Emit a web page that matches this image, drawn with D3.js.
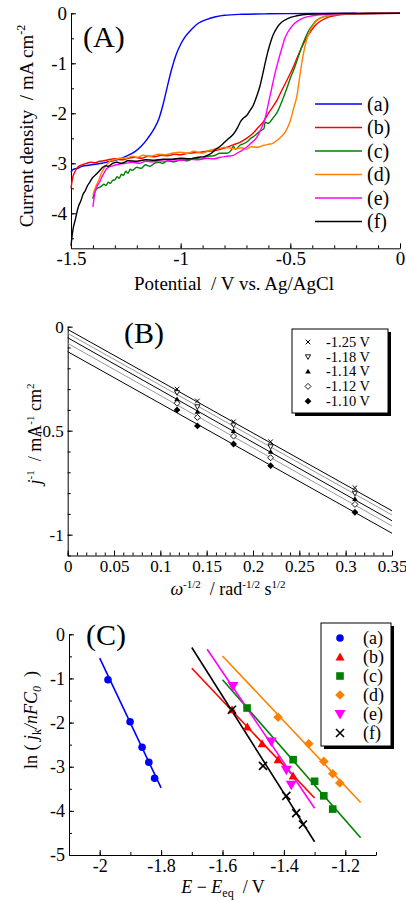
<!DOCTYPE html>
<html><head><meta charset="utf-8">
<script src="https://cdn.jsdelivr.net/npm/d3@7"></script>
<style>
body{margin:0;background:#fff;}
svg{display:block;font-family:"Liberation Serif","Times New Roman",serif;}
</style></head><body>
<script>
// ---- panel A : LSV curves, [potential V, current density mA cm-2]
var lsvNames = ["(a)","(b)","(c)","(d)","(e)","(f)"];
var lsvColors = ["#0000ff","#ff0000","#008000","#ff8000","#ff00ff","#000000"];
var curveA = [[-1.5,-3.18],[-1.49,-3.12],[-1.47,-3.1],[-1.45,-3.06],[-1.42,-3.04],[-1.39,-3.02],[-1.36,-3.0],[-1.33,-2.97],[-1.3,-2.94],[-1.27,-2.9],[-1.24,-2.84],[-1.21,-2.77],[-1.18,-2.66],[-1.15,-2.5],[-1.12,-2.3],[-1.1,-2.12],[-1.08,-1.82],[-1.06,-1.45],[-1.04,-1.1],[-1.02,-0.82],[-1.0,-0.62],[-0.98,-0.47],[-0.95,-0.32],[-0.92,-0.2],[-0.88,-0.12],[-0.84,-0.07],[-0.8,-0.04],[-0.72,-0.02],[-0.6,-0.01],[-0.4,-0.005],[-0.2,0]];
var curveB = [[-1.5,-3.5],[-1.495,-3.35],[-1.49,-3.25],[-1.48,-3.15],[-1.47,-3.08],[-1.45,-3.03],[-1.43,-3.0],[-1.41,-2.98],[-1.39,-2.99],[-1.37,-2.96],[-1.35,-2.95],[-1.33,-2.93],[-1.3,-2.91],[-1.27,-2.93],[-1.24,-2.9],[-1.21,-2.88],[-1.18,-2.9],[-1.15,-2.86],[-1.12,-2.87],[-1.09,-2.84],[-1.06,-2.85],[-1.03,-2.82],[-1.0,-2.83],[-0.97,-2.8],[-0.94,-2.79],[-0.91,-2.78],[-0.88,-2.76],[-0.85,-2.75],[-0.82,-2.72],[-0.79,-2.68],[-0.76,-2.63],[-0.73,-2.58],[-0.7,-2.5],[-0.67,-2.4],[-0.65,-2.3],[-0.62,-2.15],[-0.6,-2.0],[-0.58,-1.87],[-0.56,-1.73],[-0.54,-1.55],[-0.52,-1.38],[-0.5,-1.2],[-0.486,-1.07],[-0.47,-0.9],[-0.45,-0.7],[-0.43,-0.52],[-0.41,-0.38],[-0.39,-0.26],[-0.37,-0.18],[-0.34,-0.1],[-0.3,-0.05],[-0.25,-0.02],[-0.15,-0.005],[0,0]];
var curveC = [[-1.4,-3.71],[-1.395,-3.6],[-1.39,-3.55],[-1.38,-3.5],[-1.37,-3.48],[-1.36,-3.45],[-1.35,-3.42],[-1.34,-3.44],[-1.33,-3.38],[-1.32,-3.4],[-1.31,-3.34],[-1.3,-3.33],[-1.29,-3.27],[-1.28,-3.3],[-1.27,-3.22],[-1.26,-3.24],[-1.25,-3.16],[-1.24,-3.2],[-1.23,-3.12],[-1.22,-3.14],[-1.2,-3.08],[-1.18,-3.1],[-1.16,-3.03],[-1.14,-3.06],[-1.12,-3.0],[-1.1,-2.98],[-1.08,-3.0],[-1.06,-2.95],[-1.03,-2.97],[-1.0,-2.93],[-0.97,-2.95],[-0.94,-2.9],[-0.91,-2.92],[-0.88,-2.86],[-0.85,-2.85],[-0.82,-2.8],[-0.79,-2.8],[-0.77,-2.74],[-0.76,-2.66],[-0.75,-2.72],[-0.73,-2.64],[-0.7,-2.58],[-0.68,-2.5],[-0.66,-2.44],[-0.64,-2.36],[-0.62,-2.3],[-0.615,-2.18],[-0.6,-2.2],[-0.58,-2.1],[-0.56,-1.98],[-0.54,-1.78],[-0.52,-1.55],[-0.5,-1.3],[-0.48,-1.08],[-0.46,-0.82],[-0.44,-0.58],[-0.42,-0.38],[-0.4,-0.24],[-0.38,-0.14],[-0.35,-0.07],[-0.3,-0.03],[-0.22,-0.01],[-0.1,0],[0,0]];
var curveD = [[-1.4,-3.63],[-1.39,-3.5],[-1.38,-3.4],[-1.37,-3.3],[-1.36,-3.18],[-1.35,-3.1],[-1.34,-3.04],[-1.32,-2.95],[-1.3,-2.93],[-1.28,-2.9],[-1.25,-2.9],[-1.22,-2.86],[-1.2,-2.88],[-1.17,-2.84],[-1.14,-2.86],[-1.1,-2.82],[-1.07,-2.83],[-1.04,-2.8],[-1.0,-2.78],[-0.97,-2.8],[-0.94,-2.76],[-0.9,-2.8],[-0.87,-2.74],[-0.85,-2.72],[-0.82,-2.7],[-0.8,-2.68],[-0.77,-2.7],[-0.75,-2.71],[-0.72,-2.69],[-0.7,-2.72],[-0.68,-2.67],[-0.65,-2.68],[-0.62,-2.64],[-0.6,-2.62],[-0.58,-2.6],[-0.56,-2.54],[-0.54,-2.46],[-0.52,-2.35],[-0.5,-2.15],[-0.485,-1.9],[-0.47,-1.65],[-0.455,-1.2],[-0.44,-0.8],[-0.425,-0.52],[-0.405,-0.3],[-0.38,-0.15],[-0.35,-0.07],[-0.3,-0.03],[-0.2,-0.01],[0,0]];
var curveE = [[-1.4,-3.87],[-1.395,-3.7],[-1.39,-3.58],[-1.38,-3.45],[-1.37,-3.38],[-1.36,-3.28],[-1.35,-3.2],[-1.34,-3.12],[-1.33,-3.08],[-1.31,-3.05],[-1.28,-3.02],[-1.25,-3.0],[-1.22,-2.98],[-1.19,-3.0],[-1.16,-2.96],[-1.13,-2.97],[-1.1,-2.95],[-1.07,-2.96],[-1.04,-2.93],[-1.0,-2.94],[-0.96,-2.92],[-0.92,-2.93],[-0.88,-2.9],[-0.85,-2.91],[-0.82,-2.88],[-0.79,-2.86],[-0.76,-2.84],[-0.74,-2.79],[-0.72,-2.74],[-0.7,-2.68],[-0.68,-2.6],[-0.66,-2.52],[-0.645,-2.42],[-0.63,-2.28],[-0.615,-2.1],[-0.6,-1.8],[-0.585,-1.5],[-0.57,-1.2],[-0.555,-0.95],[-0.54,-0.72],[-0.525,-0.5],[-0.5,-0.3],[-0.48,-0.2],[-0.45,-0.11],[-0.4,-0.05],[-0.33,-0.02],[-0.25,-0.005],[0,0]];
var curveF = [[-1.5,-4.65],[-1.495,-4.45],[-1.49,-4.3],[-1.48,-4.12],[-1.474,-4.0],[-1.465,-3.85],[-1.455,-3.75],[-1.445,-3.62],[-1.435,-3.55],[-1.425,-3.45],[-1.415,-3.38],[-1.4,-3.28],[-1.39,-3.24],[-1.37,-3.15],[-1.355,-3.08],[-1.34,-3.05],[-1.33,-3.06],[-1.31,-3.0],[-1.29,-2.98],[-1.27,-3.0],[-1.24,-2.95],[-1.2,-2.96],[-1.16,-2.93],[-1.12,-2.94],[-1.08,-2.92],[-1.04,-2.92],[-1.0,-2.9],[-0.96,-2.91],[-0.92,-2.88],[-0.89,-2.86],[-0.86,-2.8],[-0.84,-2.72],[-0.82,-2.66],[-0.8,-2.58],[-0.78,-2.5],[-0.76,-2.42],[-0.74,-2.28],[-0.725,-2.15],[-0.715,-2.1],[-0.7,-2.05],[-0.685,-1.95],[-0.67,-1.85],[-0.655,-1.68],[-0.64,-1.48],[-0.625,-1.2],[-0.61,-0.9],[-0.595,-0.65],[-0.58,-0.45],[-0.56,-0.28],[-0.54,-0.18],[-0.51,-0.1],[-0.47,-0.05],[-0.42,-0.02],[-0.3,-0.005],[0,0]];
var lsvSeries = [curveA, curveB, curveC, curveD, curveE, curveF];

// ---- panel B : Koutecky-Levich, x = omega^-1/2, y = j^-1
var klX = [0.118, 0.14, 0.179, 0.219, 0.31];
var klLabels = ["-1.25 V","-1.18 V","-1.14 V","-1.12 V","-1.10 V"];
var kl125 = [-0.30,-0.357,-0.457,-0.553,-0.774];
var kl118 = [-0.317,-0.385,-0.473,-0.577,-0.801];
var kl114 = [-0.349,-0.409,-0.501,-0.601,-0.828];
var kl112 = [-0.368,-0.436,-0.526,-0.63,-0.854];
var kl110 = [-0.40,-0.477,-0.564,-0.668,-0.892];
var klSeries = [kl125, kl118, kl114, kl112, kl110];
var klFitX = [0, 0.35];
var klFitStart = [-0.013,-0.032,-0.053,-0.08,-0.12];
var klFitEnd = [-0.885,-0.905,-0.933,-0.958,-0.993];
var klLineColors = ["#000","#999","#000","#999","#000"];

// ---- panel C : Tafel plots, x = E - Eeq, y = ln(jk/nFC0)
var tafelNames = ["(a)","(b)","(c)","(d)","(e)","(f)"];
var tafelColors = ["#0000ff","#ff0000","#008000","#ff8000","#ff00ff","#000000"];
var tafelE = [
  [-1.973,-1.901,-1.862,-1.840,-1.821],
  [-1.569,-1.519,-1.471,-1.419,-1.370],
  [-1.520,-1.370,-1.300,-1.270,-1.241],
  [-1.419,-1.319,-1.270,-1.241,-1.218],
  [-1.566,-1.441,-1.392,-1.376],
  [-1.569,-1.468,-1.392,-1.360,-1.338]];
var tafelLn = [
  [-1.03,-1.98,-2.56,-2.90,-3.26],
  [-1.71,-2.10,-2.48,-2.84,-3.21],
  [-1.67,-2.84,-3.33,-3.66,-3.96],
  [-1.88,-2.48,-2.88,-3.16,-3.37],
  [-1.17,-2.43,-3.07,-3.41],
  [-1.71,-2.98,-3.66,-4.05,-4.31]];
var tafelFitE = [[-2.0,-1.8],[-1.70,-1.30],[-1.60,-1.15],[-1.60,-1.15],[-1.65,-1.30],[-1.70,-1.30]];
var tafelFitLn = [[-0.54,-3.48],[-0.77,-3.71],[-1.03,-4.61],[-0.49,-3.81],[-0.34,-3.94],[-0.30,-4.70]];

var W = 406, H = 901;
var FONT = "'Liberation Serif','Times New Roman',serif";
var svg = d3.select("body").append("svg").attr("width", W).attr("height", H);

function rangeVals(a, b, step) {
  var out = [];
  var n = Math.round((b - a) / step);
  for (var i = 0; i <= n; i++) out.push(+(a + i * step).toFixed(4));
  return out;
}
function fmt(d) { return String(+d.toFixed(2)); }

function axes(x, y, o) {
  var g = svg.append("g");
  var yb = y.range()[1], xl = x.range()[0];
  g.append("g").attr("transform", "translate(0," + yb + ")")
    .call(d3.axisBottom(x).tickValues(o.xMinor).tickSize(-3).tickFormat(""))
    .call(function(s) { s.select(".domain").remove(); });
  g.append("g").attr("transform", "translate(" + xl + ",0)")
    .call(d3.axisLeft(y).tickValues(o.yMinor).tickSize(-3).tickFormat(""))
    .call(function(s) { s.select(".domain").remove(); });
  g.append("g").attr("transform", "translate(0," + yb + ")")
    .call(d3.axisBottom(x).tickValues(o.xMajor).tickSizeInner(-5).tickSizeOuter(0).tickPadding(o.xPad).tickFormat(fmt));
  g.append("g").attr("transform", "translate(" + xl + ",0)")
    .call(d3.axisLeft(y).tickValues(o.yMajor).tickSizeInner(-5).tickSizeOuter(0).tickPadding(o.yPad).tickFormat(fmt));
  g.selectAll("g").attr("font-family", FONT).attr("font-size", o.fs);
  g.selectAll("text").attr("fill", "#000");
  g.selectAll("line, path").attr("stroke", "#000");
  return g;
}

// ================= Panel A
var xA = d3.scaleLinear().domain([-1.5, 0]).range([71, 400]);
var yA = d3.scaleLinear().domain([0, -4.7]).range([13.3, 248.3]);
axes(xA, yA, {xMajor: rangeVals(-1.5, 0, 0.5), xMinor: rangeVals(-1.5, 0, 0.1),
  yMajor: rangeVals(-4, 0, 1), yMinor: rangeVals(-4.5, 0, 0.5), xPad: 3, yPad: 4, fs: 19});

var lineA = d3.line().x(function(d) { return xA(d[0]); }).y(function(d) { return yA(d[1]); }).curve(d3.curveMonotoneX);
svg.append("g").selectAll("path").data(lsvSeries).join("path")
  .attr("d", lineA).attr("fill", "none").attr("stroke-width", 1.4)
  .attr("stroke", function(d, i) { return lsvColors[i]; });

var legA = svg.append("g").selectAll("g").data(lsvNames).join("g")
  .attr("transform", function(d, i) { return "translate(315," + (104 + i * 23.5) + ")"; });
legA.append("line").attr("x1", 0).attr("x2", 47).attr("stroke-width", 1.4)
  .attr("stroke", function(d, i) { return lsvColors[i]; });
legA.append("text").attr("x", 52).attr("dy", "0.33em").attr("font-size", 20).text(function(d) { return d; });

svg.append("text").attr("x", 83).attr("y", 47).attr("font-size", 30).text("(A)");
svg.append("text").attr("x", 234).attr("y", 290).attr("text-anchor", "middle").attr("font-size", 19)
  .text("Potential\u00a0\u00a0/ V vs. Ag/AgCl");
var tA = svg.append("text").attr("transform", "translate(33,126) rotate(-90)").attr("text-anchor", "middle").attr("font-size", 19);
tA.append("tspan").text("Current density\u00a0\u00a0/ mA cm");
tA.append("tspan").attr("dy", -8).attr("font-size", 12).text("-2");

// ================= Panel B
var xB = d3.scaleLinear().domain([0, 0.35]).range([67.7, 392]);
var yB = d3.scaleLinear().domain([0, -1.1]).range([326.7, 555.5]);
axes(xB, yB, {xMajor: rangeVals(0, 0.35, 0.05), xMinor: rangeVals(0, 0.35, 0.01),
  yMajor: [-1, -0.5, 0], yMinor: rangeVals(-1.1, 0, 0.1), xPad: 4, yPad: 4, fs: 17});

svg.append("g").selectAll("line").data(klFitStart).join("line")
  .attr("x1", xB(klFitX[0])).attr("x2", xB(klFitX[1]))
  .attr("y1", function(d) { return yB(d); })
  .attr("y2", function(d, i) { return yB(klFitEnd[i]); })
  .attr("stroke", function(d, i) { return klLineColors[i]; }).attr("stroke-width", 1);

function klMarker(sel, k) {
  if (k === 0) {
    sel.append("path").attr("d", "M-2.3,-2.3L2.3,2.3M-2.3,2.3L2.3,-2.3").attr("stroke", "#000").attr("stroke-width", 1);
  } else if (k === 1) {
    sel.append("path").attr("d", "M-2.6,-2L2.6,-2L0,2.6Z").attr("fill", "#fff").attr("stroke", "#000").attr("stroke-width", 0.9);
  } else if (k === 2) {
    sel.append("path").attr("d", "M-2.8,2L2.8,2L0,-2.8Z").attr("fill", "#000");
  } else if (k === 3) {
    sel.append("path").attr("d", "M0,-3L3,0L0,3L-3,0Z").attr("fill", "#fff").attr("stroke", "#000").attr("stroke-width", 0.9);
  } else {
    sel.append("path").attr("d", "M0,-3.4L3.4,0L0,3.4L-3.4,0Z").attr("fill", "#000");
  }
}
klSeries.forEach(function(vals, k) {
  var g = svg.append("g");
  vals.forEach(function(v, i) {
    klMarker(g.append("g").attr("transform", "translate(" + xB(klX[i]) + "," + yB(v) + ")"), k);
  });
});

// legend B
var lbx = 292, lby = 329, lbw = 96, lbh = 84;
svg.append("rect").attr("x", lbx + 3).attr("y", lby + 3).attr("width", lbw).attr("height", lbh).attr("fill", "#000");
svg.append("rect").attr("x", lbx).attr("y", lby).attr("width", lbw).attr("height", lbh).attr("fill", "#fff").attr("stroke", "#000");
klLabels.forEach(function(t, k) {
  var yy = lby + 13 + k * 14.8;
  klMarker(svg.append("g").attr("transform", "translate(" + (lbx + 16) + "," + yy + ")"), k);
  svg.append("text").attr("x", lbx + 34).attr("y", yy).attr("dy", "0.33em").attr("font-size", 14.5).text(t);
});

svg.append("text").attr("x", 124).attr("y", 343).attr("font-size", 30).text("(B)");
var tBx = svg.append("text").attr("x", 228).attr("y", 595).attr("text-anchor", "middle").attr("font-size", 18);
tBx.append("tspan").attr("font-style", "italic").text("\u03c9");
tBx.append("tspan").attr("dy", -7).attr("font-size", 11).text("-1/2");
tBx.append("tspan").attr("dy", 7).text("\u00a0\u00a0/ rad");
tBx.append("tspan").attr("dy", -7).attr("font-size", 11).text("-1/2");
tBx.append("tspan").attr("dy", 7).text(" s");
tBx.append("tspan").attr("dy", -7).attr("font-size", 11).text("1/2");
var tBy = svg.append("text").attr("transform", "translate(41,434) rotate(-90)").attr("text-anchor", "middle").attr("font-size", 18);
tBy.append("tspan").attr("font-style", "italic").text("j");
tBy.append("tspan").attr("dy", -7).attr("font-size", 11).text("-1");
tBy.append("tspan").attr("dy", 7).text("\u00a0\u00a0/ mA");
tBy.append("tspan").attr("dy", -7).attr("font-size", 11).text("-1");
tBy.append("tspan").attr("dy", 7).text(" cm");
tBy.append("tspan").attr("dy", -7).attr("font-size", 11).text("2");

// ================= Panel C
var xC = d3.scaleLinear().domain([-2.1, -1.1]).range([69, 376]);
var yC = d3.scaleLinear().domain([0, -5]).range([634.3, 855]);
axes(xC, yC, {xMajor: rangeVals(-2, -1.2, 0.2), xMinor: rangeVals(-2.1, -1.1, 0.1),
  yMajor: rangeVals(-5, 0, 1), yMinor: rangeVals(-5, 0, 0.5), xPad: 4, yPad: 4, fs: 18});

svg.append("g").selectAll("line").data(tafelFitE).join("line")
  .attr("x1", function(d) { return xC(d[0]); }).attr("x2", function(d) { return xC(d[1]); })
  .attr("y1", function(d, i) { return yC(tafelFitLn[i][0]); })
  .attr("y2", function(d, i) { return yC(tafelFitLn[i][1]); })
  .attr("stroke", function(d, i) { return tafelColors[i]; }).attr("stroke-width", 1.6);

function tafelMarker(sel, k) {
  var c = tafelColors[k];
  if (k === 0) sel.append("circle").attr("r", 3.8).attr("fill", c);
  else if (k === 1) sel.append("path").attr("d", "M-4.5,3.5L4.5,3.5L0,-4.5Z").attr("fill", c);
  else if (k === 2) sel.append("rect").attr("x", -3.8).attr("y", -3.8).attr("width", 7.6).attr("height", 7.6).attr("fill", c);
  else if (k === 3) sel.append("path").attr("d", "M0,-4.8L4.8,0L0,4.8L-4.8,0Z").attr("fill", c);
  else if (k === 4) sel.append("path").attr("d", "M-5.5,-4L5.5,-4L0,5.5Z").attr("fill", c);
  else sel.append("path").attr("d", "M-4,-4L4,4M-4,4L4,-4").attr("stroke", c).attr("stroke-width", 1.6);
}
tafelE.forEach(function(es, k) {
  var g = svg.append("g");
  es.forEach(function(e, i) {
    tafelMarker(g.append("g").attr("transform", "translate(" + xC(e) + "," + yC(tafelLn[k][i]) + ")"), k);
  });
});

var lcx = 321, lcy = 623, lcw = 70, lch = 123;
svg.append("rect").attr("x", lcx + 3).attr("y", lcy + 3).attr("width", lcw).attr("height", lch).attr("fill", "#000");
svg.append("rect").attr("x", lcx).attr("y", lcy).attr("width", lcw).attr("height", lch).attr("fill", "#fff").attr("stroke", "#000");
tafelNames.forEach(function(t, k) {
  var yy = lcy + 15 + k * 19;
  tafelMarker(svg.append("g").attr("transform", "translate(" + (lcx + 19) + "," + yy + ")"), k);
  svg.append("text").attr("x", lcx + 42).attr("y", yy).attr("dy", "0.33em").attr("font-size", 18).text(t);
});

svg.append("text").attr("x", 86).attr("y", 645).attr("font-size", 30).text("(C)");
var tCx = svg.append("text").attr("x", 223).attr("y", 893).attr("text-anchor", "middle").attr("font-size", 18);
tCx.append("tspan").attr("font-style", "italic").text("E");
tCx.append("tspan").text(" \u2212 ");
tCx.append("tspan").attr("font-style", "italic").text("E");
tCx.append("tspan").attr("dy", 4).attr("font-size", 12).text("eq");
tCx.append("tspan").attr("dy", -4).text("\u00a0\u00a0/ V");
var tCy = svg.append("text").attr("transform", "translate(37,720) rotate(-90)").attr("text-anchor", "middle").attr("font-size", 18);
tCy.append("tspan").text("ln ( ");
tCy.append("tspan").attr("font-style", "italic").text("j");
tCy.append("tspan").attr("dy", 4).attr("font-size", 12).text("k");
tCy.append("tspan").attr("dy", -4).attr("font-style", "italic").text("/nFC");
tCy.append("tspan").attr("dy", 4).attr("font-size", 12).attr("font-style", "italic").text("0");
tCy.append("tspan").attr("dy", -4).text("\u00a0\u00a0)");
</script></body></html>
